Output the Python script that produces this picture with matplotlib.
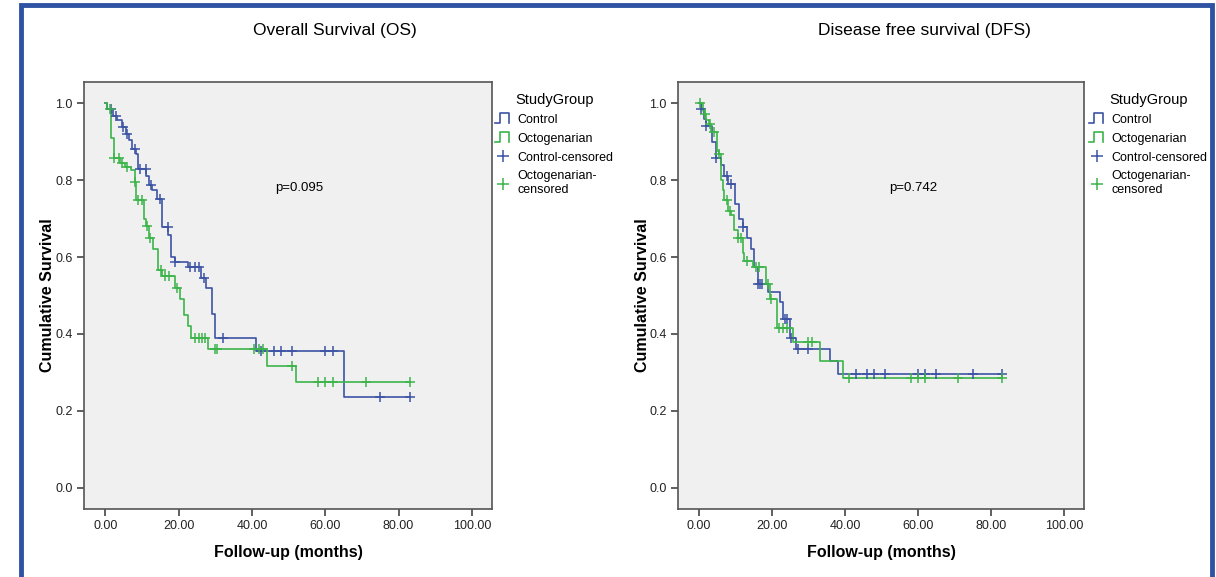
"""Kaplan-Meier curves: overall and disease free survival, control vs octogenarian."""

import matplotlib
matplotlib.use("Agg")
import matplotlib.pyplot as plt
import numpy as np
from matplotlib.legend_handler import HandlerBase
from matplotlib.lines import Line2D
from matplotlib.patches import Rectangle

NARROW = ["Liberation Sans Narrow", "Liberation Sans", "DejaVu Sans"]
plt.rcParams["font.family"] = NARROW

COLORS = {
    "control": "#3d53a4",
    "octo": "#3cb44a",
    "panel": "#f0f0f0",
    "frame": "#555555",
    "border": "#2f52a2",
}

# ---- Overall survival (OS) ----
os_ctrl_t = [0, 0.5, 2, 3.3, 4.6, 5.7, 6.6, 7.4, 8.5, 9, 11.2, 12, 12.8, 14.2, 15.6,
             17.2, 18, 18.9, 22.5, 26, 27.6, 29, 29.8, 41, 65]
os_ctrl_s = [1.0, 0.985, 0.967, 0.955, 0.937, 0.92, 0.903, 0.882, 0.868, 0.83, 0.81,
             0.786, 0.773, 0.752, 0.677, 0.656, 0.60, 0.586, 0.573, 0.545, 0.52, 0.453,
             0.39, 0.356, 0.236]
os_ctrl_cens = [1.5, 3, 4.8, 6, 8, 9.5, 11, 12.6, 14.8, 17, 19, 23, 24.5, 25.5, 27, 32,
                42.6, 45.9, 48, 51, 60, 62, 75, 83]

os_octo_t = [0, 0.5, 1.5, 2.5, 4, 5.5, 7, 8, 8.5, 10.7, 11.2, 12, 13, 14.4, 15.5, 19,
             20.5, 21.5, 22.5, 23.5, 28, 44, 52]
os_octo_s = [1.0, 0.985, 0.91, 0.858, 0.845, 0.833, 0.825, 0.794, 0.747, 0.70, 0.68,
             0.65, 0.62, 0.565, 0.55, 0.52, 0.49, 0.45, 0.42, 0.39, 0.36, 0.318, 0.274]
os_octo_cens = [1.2, 2.5, 3.8, 4.6, 6, 8.2, 9, 10, 11.4, 12.2, 15.3, 16.4, 17.5, 19.5,
                24.5, 25.5, 26.5, 27.3, 29.8, 30.6, 40.7, 42, 43, 51, 58, 60, 62, 71, 83]

# ---- Disease free survival (DFS) ----
dfs_ctrl_t = [0, 0.5, 1.2, 2, 3.5, 4.6, 6, 6.9, 8, 9.8, 11, 12, 13, 14.2, 15, 16, 18.8,
              22.1, 22.9, 24.9, 26.5, 36, 38]
dfs_ctrl_s = [1.0, 0.985, 0.96, 0.94, 0.90, 0.858, 0.838, 0.81, 0.79, 0.738, 0.70,
              0.677, 0.65, 0.622, 0.573, 0.53, 0.508, 0.482, 0.44, 0.39, 0.36, 0.331, 0.295]
dfs_ctrl_cens = [0.5, 2, 4.6, 7.5, 8.7, 12, 16.2, 16.8, 17.3, 23.5, 24, 25.2, 27, 29.8,
                 43, 45.9, 48, 51, 60, 62, 65, 75, 83]

dfs_octo_t = [0, 1, 1.6, 2, 2.7, 3.3, 4.9, 5.5, 6, 6.5, 6.9, 7.9, 8.7, 9.6, 10.6, 12,
              12.3, 14.7, 18.3, 19.5, 21.3, 25.6, 33, 39.3]
dfs_octo_s = [1.0, 0.98, 0.973, 0.955, 0.946, 0.925, 0.876, 0.868, 0.80, 0.773, 0.747,
              0.72, 0.708, 0.67, 0.65, 0.61, 0.59, 0.573, 0.53, 0.49, 0.415, 0.378, 0.331,
              0.285]
dfs_octo_cens = [0.2, 1.6, 3, 4, 5.5, 7.5, 8.5, 10.6, 11.5, 13, 15.5, 16.5, 18.8, 19.8,
                 22, 23, 24, 29.8, 31, 41, 58, 60, 62, 71, 83]

panel_titles = ["Overall Survival (OS)", "Disease free survival (DFS)"]
p_values = ["p=0.095", "p=0.742"]
p_positions = [(53, 0.78), (58.7, 0.78)]
group_labels = ["Control", "Octogenarian", "Control-censored", "Octogenarian-\ncensored"]
x_ticks = [0, 20, 40, 60, 80, 100]
y_ticks = [0.0, 0.2, 0.4, 0.6, 0.8, 1.0]


class HandlerStep(HandlerBase):
    """Legend icon drawn as a little survival step."""

    def create_artists(self, legend, orig_handle, xdescent, ydescent, width, height,
                       fontsize, trans):
        x = np.array([0, 0.3, 0.3, 0.85, 0.85]) * width - xdescent
        y = np.array([-0.05, -0.05, 1.15, 1.15, -0.05]) * height - ydescent
        line = Line2D(x, y, color=orig_handle.get_color(), lw=1.2, transform=trans)
        return [line]


def _plot_km(ax, times, surv, cens, color):
    times = np.asarray(times, dtype=float)
    surv = np.asarray(surv, dtype=float)
    cens = np.asarray(cens, dtype=float)
    t_full = np.append(times, cens.max())
    s_full = np.append(surv, surv[-1])
    ax.step(t_full, s_full, where="post", color=color, lw=1.2, zorder=3)
    idx = np.searchsorted(times, cens, side="right") - 1
    ax.plot(cens, surv[idx], "+", color=color, ms=7, mew=1.1, zorder=4)


def _style_axes(ax):
    ax.set_facecolor(COLORS["panel"])
    ax.set_xlim(-5.8, 105.5)
    ax.set_ylim(-0.055, 1.055)
    ax.set_xticks(x_ticks)
    ax.set_xticklabels([f"{v:.2f}" for v in x_ticks])
    ax.set_yticks(y_ticks)
    ax.set_yticklabels([f"{v:.1f}" for v in y_ticks])
    ax.tick_params(direction="out", length=5, width=1.2, color="#444444",
                   labelsize=9, labelcolor="#222222", pad=3)
    for sp in ax.spines.values():
        sp.set_color(COLORS["frame"])
        sp.set_linewidth(1.2)
    ax.set_xlabel("Follow-up (months)", fontsize=11.5, fontweight="bold",
                  family=["Liberation Sans", "DejaVu Sans"])
    ax.set_ylabel("Cumulative Survival", fontsize=11.5, fontweight="bold",
                  family=["Liberation Sans", "DejaVu Sans"])
    ax.xaxis.set_label_coords(0.5, -0.085)
    ax.yaxis.set_label_coords(-0.07, 0.5)


W, H = 1216, 577
fig = plt.figure(figsize=(W / 100, H / 100), dpi=100)
fig.patch.set_facecolor("white")

ax_os = fig.add_axes([84 / W, 1 - 509 / H, 408 / W, 427 / H])
ax_dfs = fig.add_axes([678 / W, 1 - 509 / H, 406 / W, 427 / H])

_plot_km(ax_os, os_ctrl_t, os_ctrl_s, os_ctrl_cens, COLORS["control"])
_plot_km(ax_os, os_octo_t, os_octo_s, os_octo_cens, COLORS["octo"])
_plot_km(ax_dfs, dfs_ctrl_t, dfs_ctrl_s, dfs_ctrl_cens, COLORS["control"])
_plot_km(ax_dfs, dfs_octo_t, dfs_octo_s, dfs_octo_cens, COLORS["octo"])

title_x = [335 / W, 924 / W]
legend_x = [495 / W, 1089 / W]
for ax, title, pval, ppos, tx, lx in zip([ax_os, ax_dfs], panel_titles, p_values,
                                          p_positions, title_x, legend_x):
    _style_axes(ax)
    fig.text(tx, 1 - 31 / H, title, ha="center", va="center", fontsize=12.5)
    ax.text(ppos[0], ppos[1], pval, ha="center", va="center", fontsize=9.5)

    handles = [
        Line2D([], [], color=COLORS["control"]),
        Line2D([], [], color=COLORS["octo"]),
        Line2D([], [], color=COLORS["control"], marker="+", ls="none", ms=9, mew=1.1),
        Line2D([], [], color=COLORS["octo"], marker="+", ls="none", ms=9, mew=1.1),
    ]
    ax.legend(handles, group_labels, title="StudyGroup", loc="upper left",
              bbox_to_anchor=(lx, 1 - 93 / H), bbox_transform=fig.transFigure,
              frameon=False, fontsize=9, title_fontsize=10.5, borderpad=0,
              borderaxespad=0, handlelength=1.3, handletextpad=0.5,
              labelspacing=0.55,
              handler_map={handles[0]: HandlerStep(), handles[1]: HandlerStep()})

# blue frame round the figure
fig.add_artist(Rectangle((21 / W, -0.1), (1212 - 21) / W, 1.1 - 5 / H,
                         transform=fig.transFigure, fill=False,
                         edgecolor=COLORS["border"], linewidth=3.5))

fig.savefig("out.png", dpi=100, facecolor="white")
plt.close(fig)
